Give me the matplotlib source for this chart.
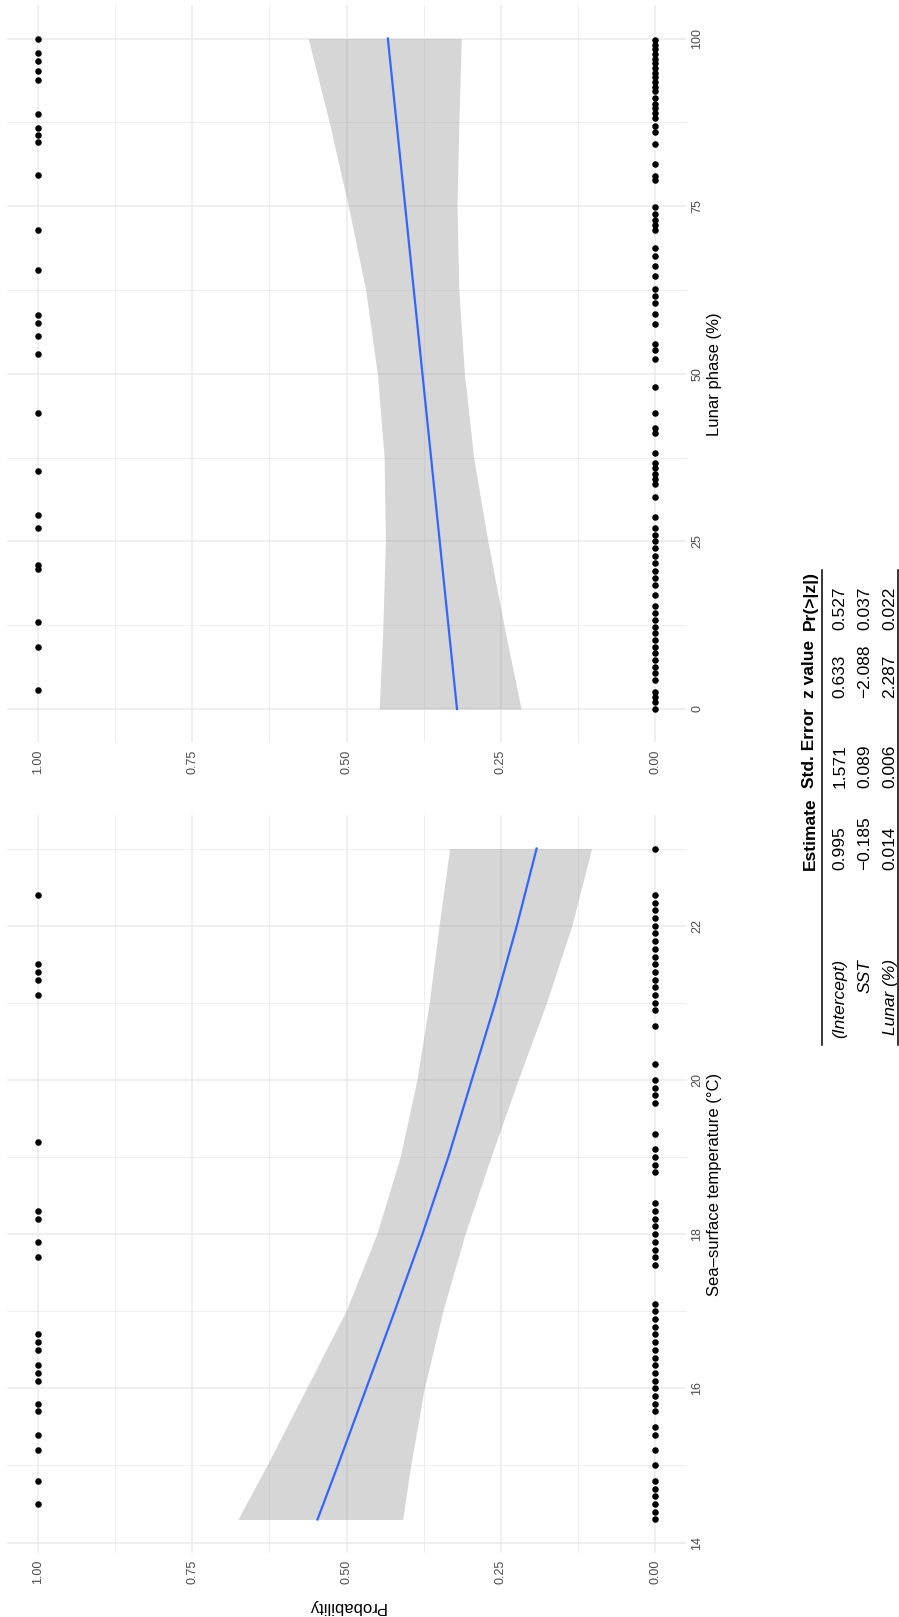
import matplotlib
matplotlib.use('Agg')
import matplotlib.pyplot as plt
from matplotlib.lines import Line2D

# figure is drawn already turned a quarter turn (text reads bottom to top)
W, H = 899, 1617
plt.rcParams['font.family'] = ['Liberation Sans', 'DejaVu Sans']

# --- data ---
sst_present = [22.4, 21.5, 21.4, 21.3, 21.1, 19.2, 18.3, 18.2, 17.9, 17.7, 16.7,
               16.6, 16.5, 16.3, 16.2, 16.1, 15.8, 15.7, 15.4, 15.2, 14.8, 14.5]
sst_absent = [23.0,
              22.4, 22.3, 22.2, 22.1, 22.0, 21.9, 21.8, 21.7, 21.6, 21.5, 21.4, 21.3,
              21.2, 21.1, 21.0, 20.9, 20.7, 20.2, 20.0, 19.9, 19.8, 19.7, 19.3,
              19.1, 19.0, 18.9, 18.8, 18.4, 18.3, 18.2, 18.1, 18.0, 17.9, 17.8, 17.7,
              17.6, 17.1, 17.0, 16.9, 16.8, 16.7, 16.6, 16.5, 16.4, 16.3, 16.2, 16.1,
              16.0, 15.9, 15.8, 15.7, 15.5, 15.4, 15.2, 15.0,
              14.8, 14.7, 14.6, 14.5, 14.4, 14.3]
lunar_present = [100.0, 97.9, 96.6, 95.2, 93.8, 88.8, 86.6, 85.6, 84.6, 79.7, 71.5,
                 65.5, 58.8, 57.6, 55.6, 52.9, 44.1, 35.5, 28.9, 27.0, 21.5, 20.9,
                 12.9, 9.3, 2.9]
lunar_absent = [99.8, 99.1, 98.4, 97.7, 97.0, 96.3, 95.6, 94.9, 94.2, 93.5, 92.8, 92.1,
                91.1, 90.3, 89.6, 88.9, 88.1, 86.9, 86.1, 84.2, 81.3, 79.5, 78.9,
                74.8, 73.9, 73.0, 72.2, 71.5, 68.8, 67.6, 66.1, 64.6, 62.6, 61.6, 60.6,
                58.9, 57.4, 54.5, 53.5, 52.2, 48.0,
                44.1, 41.9, 41.2, 38.2, 36.7, 35.9, 35.1, 34.3, 33.5, 31.6, 28.7,
                27.0, 26.0, 25.0, 24.0, 22.8, 21.7, 20.6, 19.5, 18.5, 17.0,
                15.3, 14.3, 13.3, 12.3, 11.3, 10.3, 9.3, 8.3, 7.3, 6.3, 5.3, 4.3,
                2.6, 1.8, 1.0, 0.0]

# fitted probability and its band, read at a few places
sst_fit_x = [14.3, 15, 16, 17, 18, 19, 20, 21, 22, 23]
sst_fit = [0.547, 0.514, 0.468, 0.422, 0.377, 0.335, 0.297, 0.259, 0.224, 0.192]
sst_hi = [0.676, 0.629, 0.565, 0.501, 0.451, 0.413, 0.386, 0.366, 0.350, 0.333]
sst_lo = [0.409, 0.396, 0.374, 0.344, 0.308, 0.266, 0.222, 0.176, 0.135, 0.103]

lun_fit_x = [0, 12.5, 25, 37.5, 50, 62.5, 75, 87.5, 100]
lun_fit = [0.321, 0.335, 0.349, 0.363, 0.377, 0.391, 0.405, 0.419, 0.433]
lun_hi = [0.447, 0.441, 0.437, 0.439, 0.450, 0.469, 0.497, 0.528, 0.562]
lun_lo = [0.217, 0.245, 0.271, 0.294, 0.309, 0.318, 0.321, 0.318, 0.314]

prob_ticks = [0, 0.25, 0.5, 0.75, 1.0]
prob_labels = ['0.00', '0.25', '0.50', '0.75', '1.00']
sst_ticks = [14, 16, 18, 20, 22]
lun_ticks = [0, 25, 50, 75, 100]

col_names = ['Estimate', 'Std. Error', 'z value', 'Pr(>|z|)']
row_names = ['(Intercept)', 'SST', 'Lunar (%)']
table_vals = [['0.995', '1.571', '0.633', '0.527'],
              ['\u22120.185', '0.089', '\u22122.088', '0.037'],
              ['0.014', '0.006', '2.287', '0.022']]

fig = plt.figure(figsize=(W / 100, H / 100), dpi=100)


def fx(x):
    return x / W


def fy(y):
    return 1 - y / H


def panel(top, bottom, ylim, major, minor):
    ax = fig.add_axes([fx(7), fy(bottom), fx(686) - fx(7), fy(top) - fy(bottom)])
    ax.set_xlim(1.05, -0.05)
    ax.set_ylim(*ylim)
    ax.set_xticks(prob_ticks)
    ax.set_xticklabels(prob_labels)
    ax.set_xticks([0.125, 0.375, 0.625, 0.875], minor=True)
    ax.set_yticks(major)
    ax.set_yticks(minor, minor=True)
    ax.grid(which='major', color='#EBEBEB', lw=1.1)
    ax.grid(which='minor', color='#EBEBEB', lw=0.6)
    ax.set_axisbelow(True)
    for s in ax.spines.values():
        s.set_visible(False)
    ax.yaxis.tick_right()
    ax.tick_params(which='both', length=0)
    ax.tick_params(axis='x', labelrotation=90, pad=5, labelsize=9, labelcolor='#4D4D4D')
    ax.tick_params(axis='y', labelrotation=90, pad=4, labelsize=9, labelcolor='#4D4D4D')
    for t in ax.get_yticklabels():
        t.set_va('center')
    return ax


# sea surface temperature panel (lower)
ax1 = panel(815, 1553, (13.865, 23.435), sst_ticks, [15, 17, 19, 21, 23])
ax1.scatter([1.0] * len(sst_present), sst_present, s=22, color='black', lw=0, zorder=3)
ax1.scatter([0.0] * len(sst_absent), sst_absent, s=22, color='black', lw=0, zorder=3)
ax1.fill_betweenx(sst_fit_x, sst_lo, sst_hi, color='#999999', alpha=0.4, lw=0, zorder=4)
ax1.plot(sst_fit, sst_fit_x, color='#3366FF', lw=1.6, zorder=5)

# lunar phase panel (upper)
ax2 = panel(5, 742.5, (-5, 105), lun_ticks, [12.5, 37.5, 62.5, 87.5])
ax2.scatter([1.0] * len(lunar_present), lunar_present, s=22, color='black', lw=0, zorder=3)
ax2.scatter([0.0] * len(lunar_absent), lunar_absent, s=22, color='black', lw=0, zorder=3)
ax2.fill_betweenx(lun_fit_x, lun_lo, lun_hi, color='#999999', alpha=0.4, lw=0, zorder=4)
ax2.plot(lun_fit, lun_fit_x, color='#3366FF', lw=1.6, zorder=5)

# axis titles
fig.text(fx(714), fy(1184), 'Sea\u2013surface temperature (\u00b0C)', rotation=90,
         ha='center', va='center', fontsize=12)
fig.text(fx(714), fy(374), 'Lunar phase (%)', rotation=90,
         ha='center', va='center', fontsize=12)
fig.text(fx(346.5), fy(1606), 'Probability', rotation=180,
         ha='center', va='center', fontsize=12)

# coefficient table (columns left aligned, row names right aligned)
head_x = 810
row_x = [840, 865, 890]
col_start = [870, 788, 698, 630]
name_end = 959

for name, cy in zip(col_names, col_start):
    fig.text(fx(head_x), fy(cy), name, rotation=90, ha='center', va='bottom',
             fontsize=12.5, fontweight='bold')
for i, rname in enumerate(row_names):
    fig.text(fx(row_x[i]), fy(name_end), rname, rotation=90, ha='center', va='top',
             fontsize=12.5, fontstyle='italic')
    for val, cy in zip(table_vals[i], col_start):
        fig.text(fx(row_x[i]), fy(cy), val, rotation=90, ha='center', va='bottom',
                 fontsize=12.5)

for lx in [822, 898]:
    fig.add_artist(Line2D([fx(lx), fx(lx)], [fy(570), fy(1045)], color='black', lw=1.1))

fig.savefig('out.png', dpi=100)
